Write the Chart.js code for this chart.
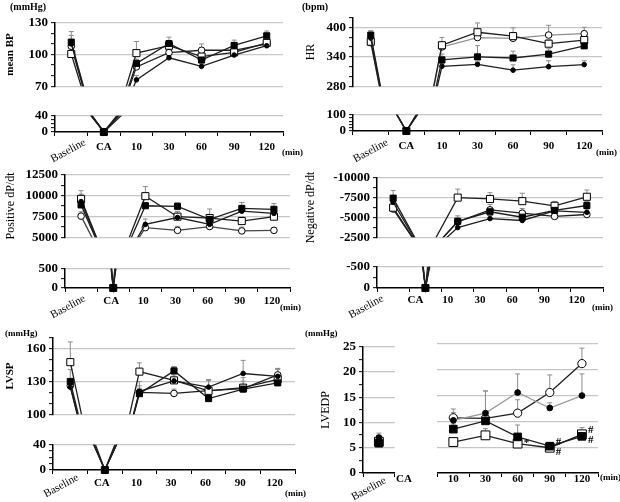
<!DOCTYPE html>
<html>
<head>
<meta charset="utf-8">
<script src="https://cdn.jsdelivr.net/npm/chart.js@4.4.1/dist/chart.umd.min.js"></script>
<style>
  body { margin: 0; background: #fff; }
  #fig { position: relative; width: 620px; height: 502px; overflow: hidden; font-family: "Liberation Serif", serif; }
  #fig canvas { position: absolute; }
  .txt { position: absolute; white-space: nowrap; color: #000; transform: translateY(-50%); }
</style>
</head>
<body>
<div id="fig"></div>
<script>
// categories shared by the panels
const timeLabels = ['Baseline', 'CA', '10', '30', '60', '90', '120'];

// mean BP (mmHg)  -- sq = filled square, ci = filled circle, osq = open square, oci = open circle
const mapTicksTop = [70, 100, 130];
const mapTicksLow = [0, 40];
const mapSq  = [111.7, 0, 91.6, 110.4, 94.8, 108.6, 117.7];
const mapCi  = [110.0, 0, 76.0, 96.9, 88.8, 99.5, 108.3];
const mapOsq = [100.5, 0, 101.3, 108.3, 98.0, 102.0, 111.0];
const mapOci = [107.8, 0, 88.3, 101.8, 104.0, 104.0, 110.0];
const mapSqSd  = [10, null, 4, 6, 5, 5, 4.5];
const mapCiSd  = [8, null, 4, 3, 3, 2, 2];
const mapOsqSd = [5, null, 11, 4, 4, 3, 3];
const mapOciSd = [6, null, 6, 4, 6, 3, 3];

// HR (bpm)
const hrTicksTop = [280, 340, 400];
const hrTicksLow = [0, 100];
const hrSq  = [384.7, 0, 333.8, 340.0, 337.7, 345.7, 362.6];
const hrCi  = [378.5, 0, 320.8, 324.7, 312.8, 320.0, 324.2];
const hrOsq = [371.0, 0, 363.8, 390.4, 382.5, 367.0, 374.5];
const hrOci = [369.0, 0, 360.4, 379.6, 378.0, 384.7, 387.5];
const hrSqSd  = [9, null, 12, 23, 14, 11, 5];
const hrCiSd  = [6, null, 5, 5, 11, 12, 8];
const hrOsqSd = [10, null, 16, 19, 17, 8, 8];
const hrOciSd = [8, null, 10, 8, 8, 20, 13];

// Positive dP/dt
const pdTicksTop = [5000, 7500, 10000, 12500];
const pdTicksLow = [0, 500];
const pdSq  = [8880, 0, 8782, 8717, 7138, 8454, 8355];
const pdCi  = [9276, 0, 6545, 7368, 6545, 8125, 7861];
const pdOsq = [9605, 0, 9934, 7467, 7302, 6940, 7467];
const pdOci = [7530, 0, 6150, 5822, 6282, 5756, 5822];
const pdSqSd  = [700, null, 400, 400, 500, 720, 690];
const pdCiSd  = [900, null, 650, 750, 500, 700, 500];
const pdOsqSd = [985, null, 1150, 600, 1090, 500, 500];
const pdOciSd = [530, null, 400, 490, 400, 460, 300];

// Negative dP/dt
const ndTicksTop = [-10000, -7500, -5000, -2500];
const ndTicksLow = [-500, 0];
const ndSq  = [-7431, 0, -4507, -5711, -5023, -5883, -6502];
const ndCi  = [-6915, 0, -3716, -4851, -4610, -5814, -5642];
const ndOsq = [-6227, 0, -7500, -7328, -7053, -6468, -7603];
const ndOci = [-6055, 0, -4450, -5952, -5539, -5126, -5367];
const ndSqSd  = [-960, null, -690, -500, -500, -500, -500];
const ndCiSd  = [-600, null, -400, -400, -300, -400, -400];
const ndOsqSd = [-500, null, -1070, -790, -1000, -550, -860];
const ndOciSd = [-400, null, -500, -690, -590, -400, -300];

// LVSP (mmHg)
const lvspTicksTop = [100, 130, 160];
const lvspTicksLow = [0, 40];
const lvspSq  = [130.0, 0, 118.8, 139.7, 114.3, 123.0, 128.7];
const lvspCi  = [124.8, 0, 120.9, 130.5, 124.8, 137.3, 134.7];
const lvspOsq = [147.7, 0, 139.0, 131.0, 121.4, 124.3, 132.0];
const lvspOci = [126.0, 0, 120.0, 119.0, 121.6, 123.5, 136.0];
const lvspSqSd  = [11, null, 5, 4, 5, 3, 4];
const lvspCiSd  = [6, null, 9, 7, 7, 12, 7];
const lvspOsqSd = [18.5, null, 8, 5, 10, 6, 9];
const lvspOciSd = [5, null, 6, 4, 9, 10, 6];

// LVEDP (mmHg), no value at CA
const lvedpTicks = [0, 5, 10, 15, 20, 25];
const lvedpSq  = [5.9, null, 8.5, 10.1, 7.0, 5.2, 7.1];
const lvedpCi  = [7.0, null, 10.2, 11.6, 15.6, 12.6, 15.0];
const lvedpOsq = [6.2, null, 6.0, 7.3, 5.7, 4.9, 7.5];
const lvedpOci = [6.5, null, 10.7, 10.6, 11.6, 15.6, 21.2];
const lvedpSqSd  = [1.5, null, 1.0, 1.0, 2.3, 0.5, 1.0];
const lvedpCiSd  = [0.9, null, 1.5, 4.3, 3.6, 1.0, 4.2];
const lvedpOsqSd = [1.0, null, 0.5, 1.3, 0.6, 0.4, 1.3];
const lvedpOciSd = [1.0, null, 1.7, 5.3, 2.6, 3.4, 3.0];
const lvedpSqNote  = [null, null, null, null, null, '#', '#'];
const lvedpOsqNote = [null, null, null, null, '*', '#', '#'];

const SERIF = '"Liberation Serif", "Times New Roman", serif';
Chart.defaults.font.family = SERIF;
const fig = document.getElementById('fig');

function addCanvas(left, top, w, h) {
  const c = document.createElement('canvas');
  c.width = w; c.height = h;
  c.style.left = left + 'px'; c.style.top = top + 'px';
  c.style.width = w + 'px'; c.style.height = h + 'px';
  fig.appendChild(c);
  return c;
}

function addText(text, x, y, size, bold) {
  const d = document.createElement('div');
  d.className = 'txt';
  d.textContent = text;
  d.style.left = x + 'px'; d.style.top = y + 'px';
  d.style.fontSize = size + 'px';
  d.style.fontWeight = bold ? 'bold' : 'normal';
  fig.appendChild(d);
}

// upward SD whiskers
const errorBars = {
  id: 'errorBars',
  beforeDatasetsDraw(chart) {
    const { ctx, chartArea } = chart;
    const ys = chart.scales.y;
    ctx.save();
    ctx.beginPath();
    ctx.rect(chartArea.left, chartArea.top, chartArea.width, chartArea.height);
    ctx.clip();
    ctx.strokeStyle = '#8c8c8c';
    ctx.lineWidth = 1;
    chart.data.datasets.forEach((ds, di) => {
      if (!ds.sd) return;
      const meta = chart.getDatasetMeta(di);
      meta.data.forEach((pt, i) => {
        const e = ds.sd[i];
        if (e == null || ds.data[i] == null) return;
        const y1 = ys.getPixelForValue(ds.data[i] + e);
        ctx.beginPath();
        ctx.moveTo(pt.x, pt.y); ctx.lineTo(pt.x, y1);
        ctx.moveTo(pt.x - 2.5, y1); ctx.lineTo(pt.x + 2.5, y1);
        ctx.stroke();
      });
    });
    ctx.restore();
  }
};

// significance marks (* / #) next to points, stacked when they share a time
const notes = {
  id: 'notes',
  afterDatasetsDraw(chart) {
    const groups = {};
    chart.data.datasets.forEach((ds, di) => {
      if (!ds.note) return;
      const meta = chart.getDatasetMeta(di);
      ds.note.forEach((t, i) => {
        if (!t) return;
        (groups[i] = groups[i] || []).push({ t, x: meta.data[i].x, y: meta.data[i].y });
      });
    });
    const ctx = chart.ctx;
    ctx.save();
    ctx.fillStyle = '#000';
    ctx.font = 'bold 11px ' + SERIF;
    ctx.textAlign = 'left';
    ctx.textBaseline = 'middle';
    Object.values(groups).forEach(g => {
      g.sort((a, b) => a.y - b.y);
      const mid = g.reduce((s, p) => s + p.y, 0) / g.length;
      g.forEach((p, k) => {
        const y = g.length > 1 ? mid + (k - (g.length - 1) / 2) * 10 : p.y;
        ctx.fillText(p.t, p.x + 6, y);
      });
    });
    ctx.restore();
  }
};

// category labels under the x axis, "Baseline" slanted
function xLabels(o) {
  return {
    id: 'xLabels',
    afterDraw(chart) {
      const { ctx } = chart;
      const xs = chart.scales.x;
      const y0 = chart.chartArea.bottom;
      ctx.save();
      ctx.fillStyle = '#000';
      chart.data.labels.forEach((t, i) => {
        const x = xs.getPixelForValue(i);
        if (t === 'Baseline') {
          ctx.save();
          ctx.translate(x + o.baseDx, y0 + o.baseDy);
          ctx.rotate(-0.5);
          ctx.font = '11px ' + SERIF;
          ctx.textAlign = 'right';
          ctx.textBaseline = 'top';
          ctx.fillText(t, 0, 0);
          ctx.restore();
        } else {
          ctx.font = 'bold 11px ' + SERIF;
          ctx.textAlign = 'center';
          ctx.textBaseline = 'middle';
          ctx.fillText(t, x + o.shift, y0 + o.dy);
        }
      });
      ctx.restore();
    }
  };
}

function yAxis(y, yW) {
  const major = v => y.labels.includes(v);
  return {
    type: 'linear', min: y.min, max: y.max, reverse: !!y.reverse,
    afterFit: s => { s.width = yW; },
    border: { display: !y.hidden, color: '#000', width: 1.5 },
    grid: {
      color: c => (c.tick && c.tick.value !== 0 && major(c.tick.value)) ? '#c6c6c6' : 'rgba(0,0,0,0)',
      lineWidth: 1.3, drawTicks: !y.hidden, tickLength: 4, tickColor: '#000', tickWidth: 1
    },
    ticks: {
      display: !y.hidden, stepSize: y.step, autoSkip: false, padding: 3, color: '#000',
      font: { family: SERIF, size: 13, weight: 'bold' },
      callback: v => major(v) ? String(v) : ''
    },
    title: {
      display: !!y.title, text: y.title || '', color: '#000',
      font: y.titleFont || { family: SERIF, size: 12 }
    }
  };
}

function makeChart(g, labels, sets, y, showX, plugins) {
  const yW = g.ax - g.cl;
  const w = g.ar - g.cl + g.padR;
  const h = g.padT + (g.ab - g.at) + (showX ? g.xH : 0);
  const cv = addCanvas(g.cl, g.at - g.padT, w, h);
  return new Chart(cv, {
    type: 'line',
    data: { labels, datasets: sets },
    options: {
      responsive: false, animation: false, devicePixelRatio: 1, events: [],
      layout: { padding: { top: g.padT, right: g.padR, bottom: 0, left: 0 } },
      plugins: { legend: { display: false }, tooltip: { enabled: false } },
      scales: {
        x: {
          type: 'category', offset: true, display: showX,
          afterFit: s => { s.height = g.xH; },
          border: { display: true, color: '#000', width: 1.5 },
          grid: { offset: true, drawOnChartArea: false, drawTicks: true, tickLength: 4, color: '#000', lineWidth: 1 },
          ticks: { display: false }
        },
        y: yAxis(y, yW)
      }
    },
    plugins: [errorBars].concat(plugins || [])
  });
}

// filled square, filled circle, open square, open circle
function buildSets(s, clip, from, to) {
  const k = s.k || 1;
  const marks = [
    { pointStyle: 'rect', r: 4.3, fill: '#000' },
    { pointStyle: 'circle', r: 2.3, fill: '#000' },
    { pointStyle: 'rect', r: 5.0, fill: '#fff' },
    { pointStyle: 'circle', r: 3.3, fill: '#fff' }
  ];
  return s.values.map((v, i) => ({
    data: v.slice(from, to),
    sd: s.sds[i].slice(from, to),
    note: s.notes && s.notes[i] ? s.notes[i].slice(from, to) : null,
    borderColor: s.colors[i], borderWidth: 1.3,
    pointStyle: marks[i].pointStyle, pointRadius: marks[i].r * k, pointHoverRadius: marks[i].r * k,
    pointBackgroundColor: marks[i].fill, pointBorderColor: '#000', pointBorderWidth: 1,
    clip
  }));
}

function brokenPanel(p) {
  const topG = { cl: p.cl, ax: p.ax, ar: p.ar, at: p.top[0], ab: p.top[1], padT: 8, padR: 8, xH: 0 };
  const lowG = { cl: p.cl, ax: p.ax, ar: p.ar, at: p.low[0], ab: p.low[1], padT: 8, padR: 8, xH: 36 };
  makeChart(topG, timeLabels, buildSets(p, { left: 8, right: 8, top: 8, bottom: 0 }), p.yTop, false);
  makeChart(lowG, timeLabels, buildSets(p, { left: 8, right: 8, top: 0, bottom: 8 }), p.yLow, true, [xLabels(p.lab)]);
}

const dark = '#1e1e1e';

// mean BP
brokenPanel({
  cl: 0, ax: 55, ar: 283, top: [20, 97], low: [113, 132],
  yTop: { min: 70, max: 130, step: 10, labels: mapTicksTop, title: 'mean BP', titleFont: { family: SERIF, size: 11, weight: 'bold' } },
  yLow: { min: 0, max: 40, step: 10, labels: mapTicksLow },
  values: [mapSq, mapCi, mapOsq, mapOci], sds: [mapSqSd, mapCiSd, mapOsqSd, mapOciSd],
  colors: [dark, dark, dark, dark],
  lab: { dy: 15, shift: 0, baseDx: 11, baseDy: 5 }
});

// HR
brokenPanel({
  cl: 300, ax: 353, ar: 602, top: [15, 97], low: [112, 131],
  yTop: { min: 280, max: 420, step: 20, labels: hrTicksTop, title: 'HR' },
  yLow: { min: 0, max: 100, step: 20, labels: hrTicksLow },
  values: [hrSq, hrCi, hrOsq, hrOci], sds: [hrSqSd, hrCiSd, hrOsqSd, hrOciSd],
  colors: [dark, dark, dark, '#8e8e8e'],
  lab: { dy: 15.5, shift: 0, baseDx: 14, baseDy: 6 }
});

// Positive dP/dt
brokenPanel({
  cl: 0, ax: 65, ar: 290, top: [172, 248], low: [266, 288],
  yTop: { min: 5000, max: 12500, step: 1250, labels: pdTicksTop, title: 'Positive dP/dt' },
  yLow: { min: 0, max: 500, step: 250, labels: pdTicksLow },
  values: [pdSq, pdCi, pdOsq, pdOci], sds: [pdSqSd, pdCiSd, pdOsqSd, pdOciSd],
  colors: [dark, dark, dark, '#444'],
  lab: { dy: 13, shift: -2, baseDx: 1, baseDy: 5 }
});

// Negative dP/dt
brokenPanel({
  cl: 300, ax: 377, ar: 603, top: [175, 248], low: [264, 288],
  yTop: { min: -10000, max: -2500, step: 1250, reverse: true, labels: ndTicksTop, title: 'Negative dP/dt' },
  yLow: { min: -500, max: 0, step: 250, reverse: true, labels: ndTicksLow },
  values: [ndSq, ndCi, ndOsq, ndOci], sds: [ndSqSd, ndCiSd, ndOsqSd, ndOciSd],
  colors: [dark, dark, dark, dark],
  lab: { dy: 12, shift: -10, baseDx: -13, baseDy: 5 }
});

// LVSP
brokenPanel({
  cl: 0, ax: 53, ar: 295, top: [335, 425], low: [442, 470],
  yTop: { min: 100, max: 170, step: 10, labels: lvspTicksTop, title: 'LVSP', titleFont: { family: SERIF, size: 11, weight: 'bold' } },
  yLow: { min: 0, max: 40, step: 10, labels: lvspTicksLow },
  values: [lvspSq, lvspCi, lvspOsq, lvspOci], sds: [lvspSqSd, lvspCiSd, lvspOsqSd, lvspOciSd],
  colors: [dark, dark, dark, dark],
  lab: { dy: 13, shift: -3, baseDx: 5, baseDy: 2 }
});

// LVEDP: baseline block and post-CA block
const lvedp = {
  values: [lvedpSq, lvedpCi, lvedpOsq, lvedpOci],
  sds: [lvedpSqSd, lvedpCiSd, lvedpOsqSd, lvedpOciSd],
  notes: [lvedpSqNote, null, lvedpOsqNote, null],
  colors: [dark, '#9a9a9a', dark, dark], k: 1.25
};
const lvedpClip = { left: 8, right: 8, top: 8, bottom: 8 };
makeChart(
  { cl: 315, ax: 363, ar: 400, at: 344, ab: 473, padT: 8, padR: 2, xH: 30 },
  timeLabels.slice(0, 1), buildSets(lvedp, lvedpClip, 0, 1),
  { min: 0, max: 25, step: 2.5, labels: lvedpTicks, title: 'LVEDP' }, true,
  [xLabels({ dy: 6, shift: 0, baseDx: 4, baseDy: 2 })]
);
makeChart(
  { cl: 430, ax: 430, ar: 598, at: 344, ab: 473, padT: 8, padR: 10, xH: 30 },
  timeLabels.slice(2), buildSets(lvedp, lvedpClip, 2),
  { min: 0, max: 25, step: 2.5, labels: lvedpTicks, hidden: true }, true,
  [xLabels({ dy: 6, shift: 0, baseDx: 0, baseDy: 0 }), notes]
);

// units and loose labels
addText('(mmHg)', 10, 6, 10, true);
addText('(bpm)', 302, 6, 10, true);
addText('(mmHg)', 5, 333, 9, true);
addText('(mmHg)', 305, 333, 9, true);
addText('(min)', 282, 152, 9, true);
addText('(min)', 596, 152, 9, true);
addText('(min)', 280, 307, 9, true);
addText('(min)', 592, 307, 9, true);
addText('(min)', 285, 493, 9, true);
addText('(min)', 600, 477, 9, true);
addText('CA', 396, 478, 11, true);
</script>
</body>
</html>
